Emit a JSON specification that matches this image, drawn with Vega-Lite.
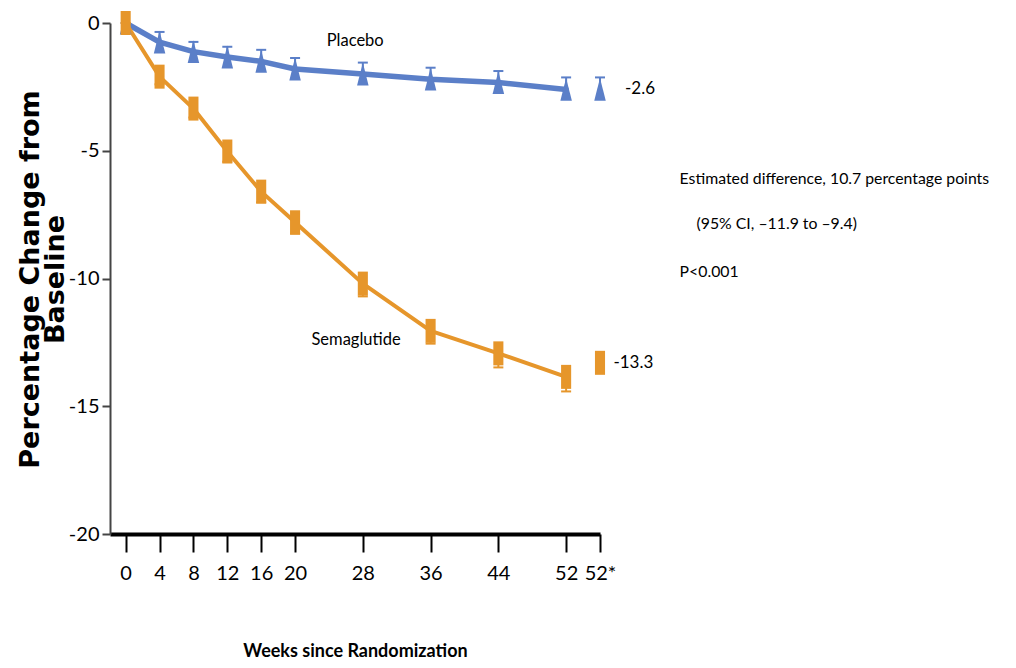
{
  "$schema": "https://vega.github.io/schema/vega-lite/v6.json",
  "autosize": "none",
  "width": 490,
  "height": 511,
  "padding": {"left": 110, "top": 23, "right": 416, "bottom": 134},
  "background": "white",
  "config": {
    "view": {"stroke": null},
    "font": "Lato, sans-serif"
  },
  "datasets": {
    "trial": [
      {"group": "Placebo", "week": 0, "change": 0, "lo": 0, "hi": 0, "final": false},
      {"group": "Placebo", "week": 4, "change": -0.75, "lo": -1.15, "hi": -0.35, "final": false},
      {"group": "Placebo", "week": 8, "change": -1.12, "lo": -1.5, "hi": -0.74, "final": false},
      {"group": "Placebo", "week": 12, "change": -1.33, "lo": -1.73, "hi": -0.93, "final": false},
      {"group": "Placebo", "week": 16, "change": -1.5, "lo": -1.95, "hi": -1.05, "final": false},
      {"group": "Placebo", "week": 20, "change": -1.8, "lo": -2.23, "hi": -1.37, "final": false},
      {"group": "Placebo", "week": 28, "change": -2.0, "lo": -2.45, "hi": -1.55, "final": false},
      {"group": "Placebo", "week": 36, "change": -2.2, "lo": -2.65, "hi": -1.75, "final": false},
      {"group": "Placebo", "week": 44, "change": -2.33, "lo": -2.78, "hi": -1.88, "final": false},
      {"group": "Placebo", "week": 52, "change": -2.6, "lo": -3.07, "hi": -2.13, "final": false},
      {"group": "Placebo", "week": 56, "change": -2.6, "lo": -3.07, "hi": -2.13, "final": true},
      {"group": "Semaglutide", "week": 0, "change": 0, "lo": 0, "hi": 0, "final": false},
      {"group": "Semaglutide", "week": 4, "change": -2.1, "lo": -2.4, "hi": -1.8, "final": false},
      {"group": "Semaglutide", "week": 8, "change": -3.35, "lo": -3.7, "hi": -3.0, "final": false},
      {"group": "Semaglutide", "week": 12, "change": -5.03, "lo": -5.43, "hi": -4.63, "final": false},
      {"group": "Semaglutide", "week": 16, "change": -6.6, "lo": -7.02, "hi": -6.18, "final": false},
      {"group": "Semaglutide", "week": 20, "change": -7.8, "lo": -8.25, "hi": -7.35, "final": false},
      {"group": "Semaglutide", "week": 28, "change": -10.2, "lo": -10.7, "hi": -9.7, "final": false},
      {"group": "Semaglutide", "week": 36, "change": -12.05, "lo": -12.55, "hi": -11.55, "final": false},
      {"group": "Semaglutide", "week": 44, "change": -12.93, "lo": -13.48, "hi": -12.38, "final": false},
      {"group": "Semaglutide", "week": 52, "change": -13.85, "lo": -14.42, "hi": -13.28, "final": false},
      {"group": "Semaglutide", "week": 56, "change": -13.3, "lo": -13.7, "hi": -12.9, "final": true}
    ],
    "seriesLabels": [
      {"text": "Placebo", "week": 27.1, "change": -0.72},
      {"text": "Semaglutide", "week": 27.2, "change": -12.4}
    ],
    "endLabels": [
      {"text": "-2.6", "week": 62.5, "change": -2.6},
      {"text": "-13.3", "week": 62.3, "change": -13.3}
    ],
    "difference": [
      {"text": "Estimated difference, 10.7 percentage points", "week": 65.4, "change": -6.1},
      {"text": "(95% CI, \u201311.9 to \u20139.4)", "week": 67.4, "change": -7.87},
      {"text": "P<0.001", "week": 65.4, "change": -9.75}
    ]
  },
  "layer": [
    {
      "mark": {"type": "rule", "color": "#BDBDBD", "strokeWidth": 1.5, "strokeDash": [9, 7], "clip": false},
      "encoding": {
        "x": {"datum": 54, "type": "quantitative", "scale": {"domain": [-1.85, 56], "nice": false, "zero": false}},
        "y": {"datum": 0.55, "type": "quantitative"},
        "y2": {"datum": -20}
      }
    },
    {
      "data": {"name": "trial"},
      "transform": [{"filter": "datum.final == false"}],
      "mark": {"type": "line", "strokeCap": "round", "strokeJoin": "round"},
      "encoding": {
        "x": {"field": "week", "type": "quantitative"},
        "y": {"field": "change", "type": "quantitative"},
        "color": {"field": "group", "type": "nominal", "scale": {"domain": ["Placebo", "Semaglutide"], "range": ["#5B7FC8", "#E6962B"]}, "legend": null},
        "strokeWidth": {"field": "group", "type": "nominal", "scale": {"domain": ["Placebo", "Semaglutide"], "range": [5.5, 4]}, "legend": null}
      }
    },
    {
      "data": {"name": "trial"},
      "transform": [{"filter": "datum.group == 'Placebo'"}],
      "mark": {"type": "rule", "strokeWidth": 2},
      "encoding": {
        "x": {"field": "week", "type": "quantitative"},
        "y": {"field": "change", "type": "quantitative"},
        "y2": {"field": "hi"},
        "color": {"field": "group", "type": "nominal", "legend": null}
      }
    },
    {
      "data": {"name": "trial"},
      "transform": [{"filter": "datum.group == 'Semaglutide'"}],
      "mark": {"type": "rule", "strokeWidth": 2},
      "encoding": {
        "x": {"field": "week", "type": "quantitative"},
        "y": {"field": "change", "type": "quantitative"},
        "y2": {"field": "lo"},
        "color": {"field": "group", "type": "nominal", "legend": null}
      }
    },
    {
      "data": {"name": "trial"},
      "transform": [{"filter": "datum.group == 'Placebo'"}],
      "mark": {"type": "point", "filled": false, "shape": "M-1,0L1,0", "size": 100, "strokeWidth": 2, "opacity": 1},
      "encoding": {
        "x": {"field": "week", "type": "quantitative"},
        "y": {"field": "hi", "type": "quantitative"},
        "color": {"field": "group", "type": "nominal", "legend": null}
      }
    },
    {
      "data": {"name": "trial"},
      "transform": [{"filter": "datum.group == 'Semaglutide'"}],
      "mark": {"type": "point", "filled": false, "shape": "M-1,0L1,0", "size": 100, "strokeWidth": 2, "opacity": 1},
      "encoding": {
        "x": {"field": "week", "type": "quantitative"},
        "y": {"field": "lo", "type": "quantitative"},
        "color": {"field": "group", "type": "nominal", "legend": null}
      }
    },
    {
      "data": {"name": "trial"},
      "mark": {"type": "point", "filled": true, "opacity": 1, "size": 576},
      "encoding": {
        "x": {"field": "week", "type": "quantitative"},
        "y": {"field": "change", "type": "quantitative"},
        "color": {"field": "group", "type": "nominal", "legend": null},
        "shape": {"field": "group", "type": "nominal", "scale": {"domain": ["Placebo", "Semaglutide"], "range": ["M0,-0.95L0.48,0.95L-0.48,0.95Z", "M-0.42,-1L0.42,-1L0.42,1L-0.42,1Z"]}, "legend": null}
      }
    },
    {
      "mark": {"type": "rule", "color": "#333333", "strokeWidth": 2, "clip": false},
      "encoding": {"x": {"datum": 62.9, "type": "quantitative"}, "x2": {"datum": 64.5}, "y": {"datum": -2.6, "type": "quantitative"}}
    },
    {
      "mark": {"type": "rule", "color": "#333333", "strokeWidth": 2, "clip": false},
      "encoding": {"x": {"datum": 62.9, "type": "quantitative"}, "x2": {"datum": 64.5}, "y": {"datum": -13.3, "type": "quantitative"}}
    },
    {
      "mark": {"type": "rule", "color": "#333333", "strokeWidth": 2, "clip": false},
      "encoding": {"x": {"datum": 64.5, "type": "quantitative"}, "y": {"datum": -2.6, "type": "quantitative"}, "y2": {"datum": -13.3}}
    },
    {
      "data": {"name": "seriesLabels"},
      "mark": {"type": "text", "fontSize": 16.5, "color": "#000000", "baseline": "middle", "align": "center"},
      "encoding": {
        "x": {"field": "week", "type": "quantitative"},
        "y": {"field": "change", "type": "quantitative"},
        "text": {"field": "text"}
      }
    },
    {
      "data": {"name": "endLabels"},
      "mark": {"type": "text", "fontSize": 17, "color": "#000000", "baseline": "middle", "align": "right"},
      "encoding": {
        "x": {"field": "week", "type": "quantitative"},
        "y": {"field": "change", "type": "quantitative"},
        "text": {"field": "text"}
      }
    },
    {
      "data": {"name": "difference"},
      "mark": {"type": "text", "fontSize": 15.8, "color": "#000000", "baseline": "middle", "align": "left"},
      "encoding": {
        "x": {"field": "week", "type": "quantitative"},
        "y": {"field": "change", "type": "quantitative"},
        "text": {"field": "text"}
      }
    }
  ],
  "resolve": {"scale": {"shape": "independent"}},
  "encoding": {
    "x": {
      "type": "quantitative",
      "scale": {"domain": [-1.85, 56], "nice": false, "zero": false},
      "axis": {
        "title": "Weeks since Randomization",
        "values": [0, 4, 8, 12, 16, 20, 28, 36, 44, 52, 56],
        "labelExpr": "datum.value == 56 ? '52*' : datum.label",
        "labelOverlap": false,
        "labelFlush": false,
        "grid": false,
        "domainColor": "#000000",
        "domainWidth": 4,
        "tickColor": "#000000",
        "tickWidth": 2,
        "tickSize": 18,
        "labelFontSize": 20,
        "labelColor": "#000000",
        "labelPadding": 11,
        "labelFont": "Lato, sans-serif",
        "titleFont": "Lato, sans-serif",
        "titleFontSize": 18,
        "titleFontWeight": "bold",
        "titleColor": "#000000",
        "titlePadding": 59
      }
    },
    "y": {
      "type": "quantitative",
      "scale": {"domain": [-20, 0], "nice": false, "zero": false},
      "axis": {
        "title": ["Percentage Change from", "Baseline"],
        "values": [0, -5, -10, -15, -20],
        "labelExpr": "replace(datum.label, '\u2212', '-')",
        "labelFlush": false,
        "grid": false,
        "domainColor": "#444444",
        "domainWidth": 2,
        "tickColor": "#444444",
        "tickWidth": 2,
        "tickSize": 8,
        "labelFontSize": 20,
        "labelColor": "#000000",
        "labelPadding": 3,
        "labelFont": "Lato, sans-serif",
        "titleFont": "DejaVu Sans",
        "titleFontSize": 27,
        "titleFontWeight": "bold",
        "titleColor": "#000000",
        "titleLineHeight": 25,
        "titleX": -66,
        "titleY": 256,
        "titleAngle": -90,
        "titleAlign": "center",
        "titleBaseline": "bottom"
      }
    }
  }
}
